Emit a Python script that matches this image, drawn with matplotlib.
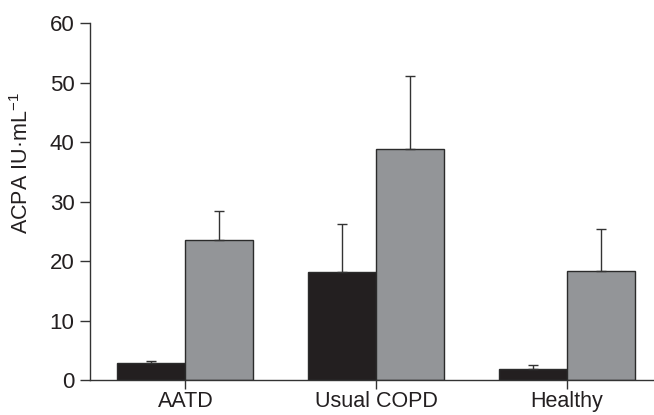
import numpy as np
import matplotlib
matplotlib.use("Agg")
import matplotlib.pyplot as plt

plt.rcParams["font.family"] = ["Liberation Sans", "DejaVu Sans"]
plt.rcParams["mathtext.fontset"] = "custom"
plt.rcParams["mathtext.rm"] = "Liberation Sans"
plt.rcParams["mathtext.default"] = "regular"

# data
groups = ["AATD", "Usual COPD", "Healthy"]
black_vals = [2.8, 18.1, 1.8]
black_err = [0.4, 8.1, 0.8]
gray_vals = [23.5, 38.9, 18.4]
gray_err = [5.0, 12.2, 7.0]

BLACK = "#231f20"
GRAY = "#939598"
EDGE = "#2b2b2b"

fig = plt.figure(figsize=(6.54, 4.15), dpi=100)
ax = fig.add_axes([90 / 654, 35 / 415, 572 / 654, 356.7 / 415])

x = np.arange(len(groups))
w = 0.357

ax.bar(x - w / 2, black_vals, w, color=BLACK, edgecolor=EDGE, linewidth=1.0,
       yerr=[np.zeros(3), black_err],
       error_kw={"ecolor": "#333333", "elinewidth": 1.0, "capsize": 3.8, "capthick": 1.0},
       zorder=2)
ax.bar(x + w / 2, gray_vals, w, color=GRAY, edgecolor=EDGE, linewidth=1.0,
       yerr=[np.zeros(3), gray_err],
       error_kw={"ecolor": "#333333", "elinewidth": 1.0, "capsize": 3.8, "capthick": 1.0},
       zorder=2)

ax.set_xlim(-0.5, 2.5)
ax.set_ylim(0, 60)
ax.set_yticks(range(0, 61, 10))
ax.set_xticks(x)
ax.set_xticklabels(groups)

for s in ["top", "right"]:
    ax.spines[s].set_visible(False)
for s in ["left", "bottom"]:
    ax.spines[s].set_color("#333333")
    ax.spines[s].set_linewidth(1.0)

ax.tick_params(axis="y", direction="out", length=7.2, width=1.0, color="#333333",
               labelsize=16, labelcolor="#231f20", pad=4)
ax.tick_params(axis="x", direction="out", length=6.5, width=1.0, color="#333333",
               labelsize=15.5, labelcolor="#231f20", pad=1.5)

fig.text(22 / 654, 1 - 163 / 415, r"ACPA IU·mL$^{-1}$", rotation=90,
         ha="center", va="center", fontsize=15.5, color="#231f20")

fig.savefig("out.png", dpi=100)
